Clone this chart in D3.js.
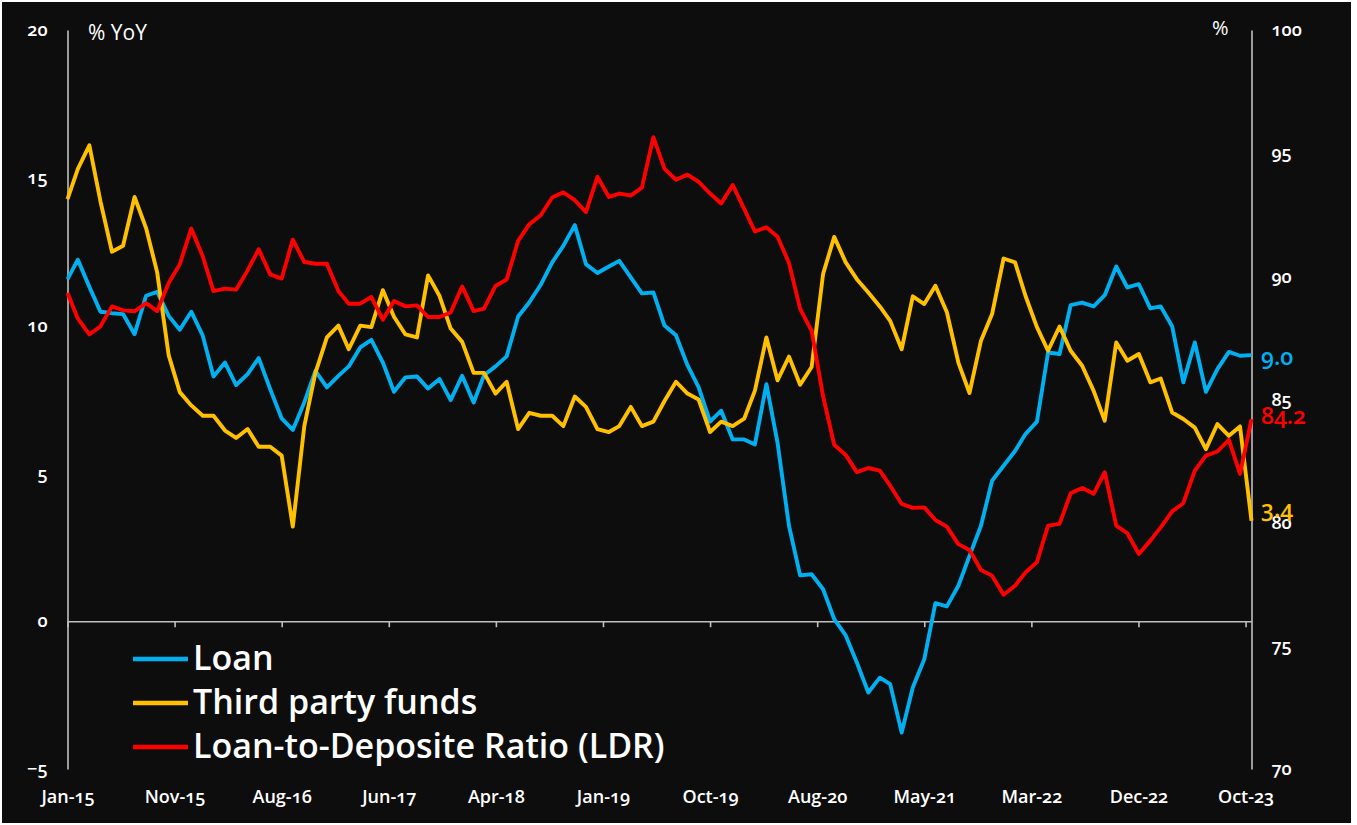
<!DOCTYPE html>
<html>
<head>
<meta charset="utf-8">
<script src="https://cdn.jsdelivr.net/npm/d3@7"></script>
<style>
  body { margin: 0; background: #ffffff; }
  svg { display: block; }
  text { font-family: "Open Sans", sans-serif; fill: #ffffff; font-feature-settings: "onum"; }
</style>
</head>
<body>
<div id="chart"></div>
<script>
var w = 1357;
var h = 825;

// monthly series, Jan-15 .. Oct-23 (month end dates)
var loan = [
  11.57, 12.23, 11.31, 10.47, 10.42, 10.39, 9.71, 11.01, 11.14, 10.33,
  9.86, 10.47, 9.66, 8.28, 8.75, 7.99, 8.36, 8.90, 7.85, 6.86,
  6.47, 7.40, 8.47, 7.91, 8.30, 8.62, 9.26, 9.52, 8.75, 7.76,
  8.25, 8.28, 7.87, 8.19, 7.48, 8.30, 7.40, 8.32, 8.62, 8.96,
  10.31, 10.78, 11.38, 12.14, 12.70, 13.40, 12.08, 11.78, 12.00, 12.19,
  11.63, 11.09, 11.12, 10.00, 9.67, 8.66, 7.92, 6.75, 7.12, 6.15,
  6.15, 5.98, 8.02, 6.04, 3.22, 1.55, 1.59, 1.08, 0.07, -0.48,
  -1.40, -2.41, -1.91, -2.13, -3.77, -2.24, -1.29, 0.61, 0.50, 1.20,
  2.21, 3.23, 4.75, 5.26, 5.76, 6.33, 6.75, 9.09, 9.04, 10.69,
  10.78, 10.65, 11.03, 12.00, 11.29, 11.40, 10.58, 10.65, 9.97, 8.08,
  9.43, 7.76, 8.53, 9.11, 8.98, 9.0
];

var tpf = [
  14.28, 15.30, 16.10, 14.20, 12.50, 12.70, 14.35, 13.30, 11.80, 9.00,
  7.75, 7.30, 6.95, 6.95, 6.45, 6.20, 6.50, 5.90, 5.90, 5.60,
  3.20, 6.60, 8.40, 9.60, 10.00, 9.20, 10.00, 9.95, 11.20, 10.30,
  9.70, 9.60, 11.70, 11.00, 9.90, 9.45, 8.40, 8.40, 7.70, 8.10,
  6.50, 7.05, 6.95, 6.95, 6.60, 7.60, 7.25, 6.50, 6.40, 6.60,
  7.25, 6.60, 6.75, 7.45, 8.10, 7.70, 7.50, 6.40, 6.75, 6.60,
  6.85, 7.80, 9.60, 8.15, 8.95, 8.00, 8.60, 11.75, 13.00, 12.14,
  11.57, 11.12, 10.65, 10.16, 9.20, 10.99, 10.73, 11.35, 10.45, 8.75,
  7.72, 9.49, 10.39, 12.27, 12.14, 11.01, 9.95, 9.15, 9.97, 9.15,
  8.64, 7.79, 6.78, 9.43, 8.81, 9.04, 8.08, 8.21, 7.06, 6.84,
  6.55, 5.82, 6.67, 6.27, 6.59, 3.4
];

var ldr = [
  89.32, 88.28, 87.64, 87.97, 88.78, 88.62, 88.58, 88.91, 88.59, 89.73,
  90.49, 91.94, 90.81, 89.40, 89.50, 89.46, 90.24, 91.10, 90.08, 89.91,
  91.49, 90.58, 90.51, 90.51, 89.40, 88.89, 88.89, 89.16, 88.24, 89.00,
  88.78, 88.82, 88.35, 88.35, 88.53, 89.59, 88.59, 88.69, 89.61, 89.87,
  91.44, 92.11, 92.48, 93.20, 93.41, 93.09, 92.61, 94.04, 93.22, 93.36,
  93.28, 93.60, 95.65, 94.36, 93.92, 94.13, 93.84, 93.36, 92.96, 93.71,
  92.74, 91.82, 91.99, 91.61, 90.54, 88.68, 87.79, 85.13, 83.16, 82.75,
  82.05, 82.22, 82.11, 81.50, 80.76, 80.60, 80.62, 80.11, 79.84, 79.13,
  78.89, 78.08, 77.85, 77.07, 77.44, 77.98, 78.40, 79.88, 79.95, 81.19,
  81.41, 81.17, 82.05, 79.88, 79.57, 78.73, 79.27, 79.81, 80.46, 80.79,
  82.11, 82.72, 82.89, 83.36, 81.98, 84.2
];

var seriesNames = ["Loan", "Third party funds", "Loan-to-Deposite Ratio (LDR)"];
var seriesColors = ["#00b0f0", "#ffc000", "#ff0000"];
var endLabels = ["9.0", "3.4", "84.2"];

var xTickLabels = ["Jan-15", "Nov-15", "Aug-16", "Jun-17", "Apr-18", "Jan-19",
                   "Oct-19", "Aug-20", "May-21", "Mar-22", "Dec-22", "Oct-23"];
var tickStepDays = 289;
var leftTicks = [-5, 0, 5, 10, 15, 20];
var rightTicks = [70, 75, 80, 85, 90, 95, 100];

var dates = loan.map(function(d, i) { return new Date(Date.UTC(2015, i + 1, 0)); });

var x = d3.scaleUtc()
    .domain([dates[0], dates[dates.length - 1]])
    .range([67.5, 1251.5]);

var yLeft = d3.scaleLinear().domain([-5, 20]).range([769, 30]);
var yRight = d3.scaleLinear().domain([70, 100]).range([769, 30]);

var svg = d3.select("#chart")
    .append("svg")
    .attr("width", w)
    .attr("height", h);

svg.append("rect")
    .attr("x", 2).attr("y", 2)
    .attr("width", 1349).attr("height", 821)
    .attr("fill", "#0d0d0d");

// axes
var axisColor = "#c0c0c0";

var gl = svg.append("g")
    .attr("transform", "translate(67.5,0)")
    .call(d3.axisLeft(yLeft).tickValues(leftTicks).tickSize(0).tickPadding(20));

var gr = svg.append("g")
    .attr("transform", "translate(1251.5,0)")
    .call(d3.axisRight(yRight).tickValues(rightTicks).tickSize(0).tickPadding(20));

var tickDates = xTickLabels.map(function(d, k) { return d3.utcDay.offset(dates[0], k * tickStepDays); });

var gx = svg.append("g")
    .attr("transform", "translate(0," + yLeft(0) + ")")
    .call(d3.axisBottom(x).tickValues(tickDates).tickSizeInner(6).tickSizeOuter(0)
        .tickFormat(function(d, i) { return xTickLabels[i]; }));

gx.selectAll("text")
    .attr("y", 797 - yLeft(0))
    .attr("dy", "0.35em");

[gl, gr, gx].forEach(function(g) {
    g.select(".domain").attr("stroke", axisColor).attr("stroke-width", 1.6);
    g.selectAll(".tick line").attr("stroke", axisColor).attr("stroke-width", 1.6);
    g.selectAll("text")
        .attr("fill", "#ffffff")
        .style("font-size", "18px")
        .style("font-weight", 600)
        .style("font-family", "'Open Sans', sans-serif");
});

// unit labels
svg.append("text")
    .attr("x", 88).attr("y", 40)
    .style("font-size", "21px")
    .attr("fill", "#e8e8e8")
    .text("% YoY");

svg.append("text")
    .attr("x", 1212).attr("y", 35)
    .style("font-size", "20px")
    .attr("fill", "#e8e8e8")
    .text("%");

// lines
var lineLeft = d3.line()
    .x(function(d, i) { return x(dates[i]); })
    .y(function(d) { return yLeft(d); });

var lineRight = d3.line()
    .x(function(d, i) { return x(dates[i]); })
    .y(function(d) { return yRight(d); });

var series = [
    {values: loan, line: lineLeft, y: yLeft, color: seriesColors[0], label: endLabels[0], dy: 2},
    {values: tpf, line: lineLeft, y: yLeft, color: seriesColors[1], label: endLabels[1], dy: -12},
    {values: ldr, line: lineRight, y: yRight, color: seriesColors[2], label: endLabels[2], dy: -3}
];

svg.selectAll("path.series")
    .data(series)
    .enter()
    .append("path")
    .attr("class", "series")
    .attr("fill", "none")
    .attr("stroke", function(d) { return d.color; })
    .attr("stroke-width", 3.9)
    .attr("stroke-linejoin", "round")
    .attr("d", function(d) { return d.line(d.values); });

// end value labels
svg.selectAll("text.endlabel")
    .data(series)
    .enter()
    .append("text")
    .attr("class", "endlabel")
    .attr("x", 1261)
    .attr("y", function(d) { return d.y(d.values[d.values.length - 1]) + d.dy; })
    .attr("dy", "0.35em")
    .style("fill", function(d) { return d.color; })
    .style("font-size", "23px")
    .style("font-weight", 600)
    .text(function(d) { return d.label; });

// legend
var legend = svg.append("g")
    .attr("transform", "translate(133,659)");

var item = legend.selectAll("g")
    .data(seriesNames)
    .enter()
    .append("g")
    .attr("transform", function(d, i) { return "translate(0," + (i * 44) + ")"; });

item.append("line")
    .attr("x1", 0).attr("x2", 55)
    .attr("stroke", function(d, i) { return seriesColors[i]; })
    .attr("stroke-width", 4.5);

item.append("text")
    .attr("x", 60)
    .attr("y", 11)
    .style("font-size", "34px")
    .style("font-weight", 600)
    .text(function(d) { return d; });
</script>
</body>
</html>
